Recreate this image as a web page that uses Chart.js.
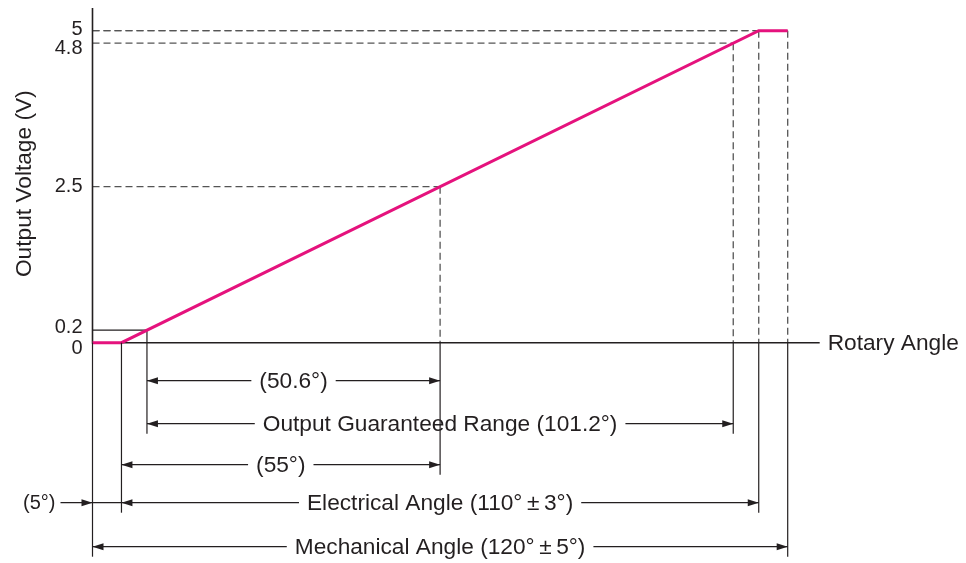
<!DOCTYPE html>
<html>
<head>
<meta charset="utf-8">
<script src="https://cdn.jsdelivr.net/npm/chart.js@4.4.1/dist/chart.umd.min.js"></script>
<style>
  html, body { margin: 0; padding: 0; background: #fff; }
  canvas { display: block; }
</style>
</head>
<body>
<canvas id="chart" width="966" height="563"></canvas>
<script>
// output curve (rotary angle in degrees -> volts)
const angles = [0, 5, 115, 120];
const voltages = [0, 0, 5, 5];

// y axis tick values and their labels
const yTicks = [0, 0.2, 2.5, 4.8, 5];
const yTickLabels = ['0', '0.2', '2.5', '4.8', '5'];

// reference points marked with dashed guides
const guideAngles = [60, 110.6, 115, 120];
const guideVolts = [2.5, 4.8, 5, 5];
const lowAngle = 9.4;   // point where output reaches 0.2 V
const lowVolt = 0.2;

// dimension rows under the axis
const dimLabels = ['(50.6°)', 'Output Guaranteed Range (101.2°)', '(55°)', 'Electrical Angle (110°\u2009±\u20093°)', 'Mechanical Angle (120°\u2009±\u20095°)'];
const dimFrom = [9.4, 9.4, 5, 5, 0];
const dimTo = [60, 110.6, 60, 115, 120];
const offsetLabel = '(5°)';

const xTitle = 'Rotary Angle';
const yTitle = 'Output Voltage (V)';

const FONT = '22.7px "Liberation Sans", Arial, sans-serif';
const TICK_FONT = '20px "Liberation Sans", Arial, sans-serif';
const INK = '#231f20';

function arrow(ctx, x, y, dir) {
  ctx.beginPath();
  ctx.moveTo(x, y);
  ctx.lineTo(x - dir * 11, y - 3.5);
  ctx.lineTo(x - dir * 11, y + 3.5);
  ctx.closePath();
  ctx.fill();
}

const drawingPlugin = {
  id: 'drawing',
  beforeDatasetsDraw(chart) {
    const { ctx } = chart;
    const xs = chart.scales.x, ys = chart.scales.y;
    const x0 = xs.getPixelForValue(0);
    const y0 = ys.getPixelForValue(0);
    ctx.save();

    // dashed guides
    ctx.strokeStyle = '#555';
    ctx.lineWidth = 1.3;
    ctx.setLineDash([7, 4]);
    guideAngles.forEach((a, i) => {
      const px = xs.getPixelForValue(a);
      const py = ys.getPixelForValue(guideVolts[i]);
      ctx.beginPath();
      ctx.moveTo(px, py);
      ctx.lineTo(px, y0);
      ctx.stroke();
      ctx.beginPath();
      ctx.moveTo(x0, py);
      ctx.lineTo(px, py);
      ctx.stroke();
    });
    ctx.setLineDash([]);

    // small solid box at 0.2 V
    const lx = xs.getPixelForValue(lowAngle);
    const ly = ys.getPixelForValue(lowVolt);
    ctx.strokeStyle = INK;
    ctx.lineWidth = 1.2;
    ctx.beginPath();
    ctx.moveTo(x0, ly);
    ctx.lineTo(lx, ly);
    ctx.lineTo(lx, y0);
    ctx.stroke();

    // axes
    ctx.lineWidth = 1.6;
    ctx.beginPath();
    ctx.moveTo(x0, 8);
    ctx.lineTo(x0, y0);
    ctx.lineTo(xs.right + 32, y0);
    ctx.stroke();
    ctx.restore();
  },
  afterDraw(chart) {
    const { ctx } = chart;
    const xs = chart.scales.x, ys = chart.scales.y;
    const x0 = xs.getPixelForValue(0);
    const y0 = ys.getPixelForValue(0);
    ctx.save();
    ctx.fillStyle = INK;
    ctx.strokeStyle = INK;

    // y tick labels, nudged apart where they crowd
    const nudge = [6, -3, 0, 5, -1];
    ctx.font = TICK_FONT;
    ctx.textAlign = 'right';
    ctx.textBaseline = 'middle';
    yTicks.forEach((v, i) => {
      ctx.fillText(yTickLabels[i], x0 - 10, ys.getPixelForValue(v) + nudge[i]);
    });

    // axis titles
    ctx.font = FONT;
    ctx.textAlign = 'left';
    ctx.fillText(xTitle, xs.right + 40, y0 + 1);
    ctx.save();
    ctx.translate(25, (ys.top + y0) / 2 - 3);
    ctx.rotate(-Math.PI / 2);
    ctx.textAlign = 'center';
    ctx.fillText(yTitle, 0, 0);
    ctx.restore();

    // dimension rows
    const rowOffsets = [38, 81, 122, 160, 204];
    const rowY = rowOffsets.map(o => y0 + o);

    // extension lines below the axis, each ending just past its lowest row
    const ext = {};
    dimFrom.concat(dimTo).forEach((a, k) => {
      const r = k % dimFrom.length;
      ext[a] = Math.max(ext[a] || 0, rowY[r]);
    });
    ctx.lineWidth = 1.2;
    Object.keys(ext).forEach(a => {
      const px = xs.getPixelForValue(Number(a));
      ctx.beginPath();
      ctx.moveTo(px, y0);
      ctx.lineTo(px, ext[a] + 10);
      ctx.stroke();
    });

    ctx.textAlign = 'center';
    dimLabels.forEach((label, i) => {
      const a = xs.getPixelForValue(dimFrom[i]);
      const b = xs.getPixelForValue(dimTo[i]);
      const y = rowY[i];
      const w = ctx.measureText(label).width;
      const c = (a + b) / 2;
      ctx.beginPath();
      ctx.moveTo(a, y);
      ctx.lineTo(c - w / 2 - 8, y);
      ctx.moveTo(c + w / 2 + 8, y);
      ctx.lineTo(b, y);
      ctx.stroke();
      arrow(ctx, a, y, -1);
      arrow(ctx, b, y, 1);
      ctx.fillText(label, c, y + 1);
    });

    // (5°) offset marker on the electrical row
    const ey = rowY[3];
    const e5 = xs.getPixelForValue(dimFrom[3]);
    ctx.beginPath();
    ctx.moveTo(x0 - 32, ey);
    ctx.lineTo(e5, ey);
    ctx.stroke();
    arrow(ctx, x0, ey, 1);
    ctx.font = TICK_FONT;
    ctx.textAlign = 'right';
    ctx.fillText(offsetLabel, x0 - 37, ey + 1);

    ctx.restore();
  }
};

new Chart(document.getElementById('chart'), {
  type: 'line',
  data: {
    datasets: [{
      data: angles.map((a, i) => ({ x: a, y: voltages[i] })),
      borderColor: '#e5127d',
      borderWidth: 3,
      pointRadius: 0,
      tension: 0,
      fill: false,
      clip: false
    }]
  },
  options: {
    responsive: false,
    animation: false,
    devicePixelRatio: 1,
    layout: { padding: { left: 92.5, right: 178.3, top: 30.7, bottom: 220.3 } },
    plugins: { legend: { display: false }, tooltip: { enabled: false } },
    scales: {
      x: { type: 'linear', min: 0, max: 120, display: false },
      y: { type: 'linear', min: 0, max: 5, display: false }
    }
  },
  plugins: [drawingPlugin]
});
</script>
</body>
</html>
